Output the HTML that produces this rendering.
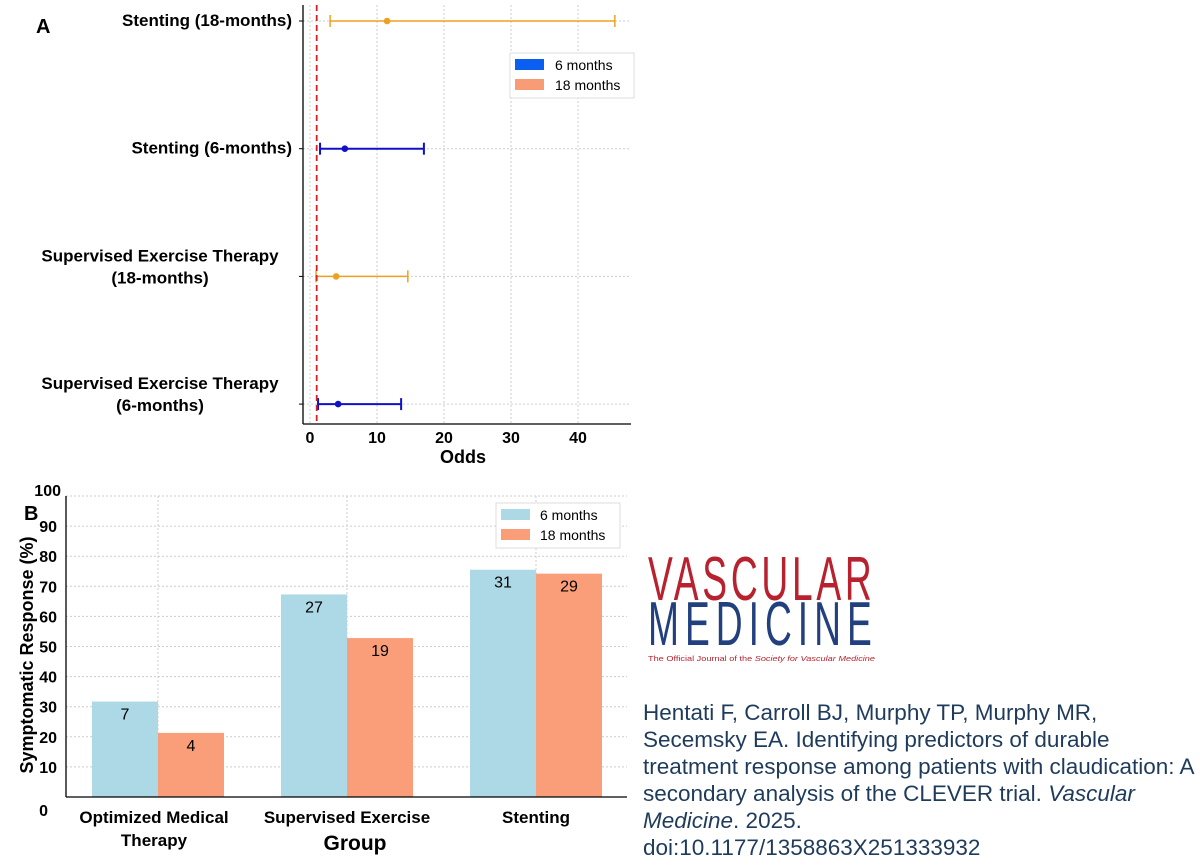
<!DOCTYPE html>
<html><head><meta charset="utf-8"><style>
html,body{margin:0;padding:0;background:#fff;}
svg{display:block;font-family:"Liberation Sans",sans-serif;}
</style></head><body>
<svg id="root" width="1200" height="866" viewBox="0 0 1200 866" xmlns="http://www.w3.org/2000/svg">
<g id="panelA"></g>
<g id="panelB"></g>
<g>
<text transform="translate(648,600) scale(0.6,1)" x="0" y="0" font-size="62" fill="#b8222f" textLength="373" lengthAdjust="spacing">VASCULAR</text>
<text transform="translate(648,645) scale(0.6,1)" x="0" y="0" font-size="62" fill="#223f7e" textLength="373" lengthAdjust="spacing">MEDICINE</text>
<text x="648" y="661" font-size="7.5" fill="#b8222f" textLength="227" lengthAdjust="spacingAndGlyphs">The Official Journal of the <tspan font-style="italic">Society for Vascular Medicine</tspan></text>
</g>
<g font-size="22.5" fill="#1f3b5c">
<text x="643" y="720">Hentati F, Carroll BJ, Murphy TP, Murphy MR,</text>
<text x="643" y="747">Secemsky EA. Identifying predictors of durable</text>
<text x="643" y="774">treatment response among patients with claudication: A</text>
<text x="643" y="801">secondary analysis of the CLEVER trial. <tspan font-style="italic">Vascular</tspan></text>
<text x="643" y="828"><tspan font-style="italic">Medicine</tspan>. 2025.</text>
<text x="643" y="855">doi:10.1177/1358863X251333932</text>
</g>
</svg>
<script>
// Panel A data
const aLabels = [["Stenting (18-months)"],["Stenting (6-months)"],["Supervised Exercise Therapy","(18-months)"],["Supervised Exercise Therapy","(6-months)"]];
const aPoint = [11.5, 5.2, 3.9, 4.2];
const aLow = [3.0, 1.5, 0.9, 1.2];
const aHigh = [45.5, 17.0, 14.6, 13.6];
const aSeries = ["18","6","18","6"];
const aTicks = [0,10,20,30,40];
// Panel B data
const bCats = [["Optimized Medical","Therapy"],["Supervised Exercise"],["Stenting"]];
const b6 = [31.7, 67.3, 75.5];
const b18 = [21.3, 52.8, 74.2];
const bN6 = ["7","27","31"];
const bN18 = ["4","19","29"];
const bTicks = [0,10,20,30,40,50,60,70,80,90,100];

const NS="http://www.w3.org/2000/svg";
function mk(p,tag,at,txt){const e=document.createElementNS(NS,tag);for(const k in at)e.setAttribute(k,at[k]);if(txt!==undefined)e.textContent=txt;p.appendChild(e);return e;}

// ---- Panel A
const A=document.getElementById('panelA');
const ax=v=>310+v*6.7;
const ay=i=>21+i*127.7;
mk(A,'text',{x:36,y:33,'font-size':20,'font-weight':'bold'},'A');
aTicks.forEach(t=>{const l=mk(A,'line',{x1:ax(t),x2:ax(t),y1:5,y2:424,stroke:'#ccc','stroke-dasharray':'2,2'});

const tx=mk(A,'text',{x:ax(t),y:443,'font-size':16,'font-weight':'bold','text-anchor':'middle'},String(t));
});
aLabels.forEach((lb,i)=>{const y=ay(i);
const g=mk(A,'line',{x1:303,x2:631,y1:y,y2:y,stroke:'#ccc','stroke-dasharray':'2,2'});

mk(A,'line',{x1:299,x2:303,y1:y,y2:y,stroke:'#000'});
lb.forEach((s,j)=>{const cx=160;const yy=lb.length>1?y-8+j*22:y+5;
const t=mk(A,'text',{x:lb.length>1?cx:292,y:yy-(lb.length>1?7:0),'font-size':17,'font-weight':'bold','text-anchor':lb.length>1?'middle':'end'},s);
});
const c=aSeries[i]==="18"?'#f0a020':'#1010c8';
const w=aSeries[i]==="18"?1.5:2;
const ci=mk(A,'line',{x1:ax(aLow[i]),x2:ax(aHigh[i]),y1:y,y2:y,stroke:c,'stroke-width':w});

[aLow[i],aHigh[i]].forEach(v=>{const cap=mk(A,'line',{x1:ax(v),x2:ax(v),y1:y-6,y2:y+6,stroke:c,'stroke-width':w});
});
const pt=mk(A,'circle',{cx:ax(aPoint[i]),cy:y,r:3.3,fill:c});
});
mk(A,'line',{x1:303,x2:303,y1:5,y2:424,stroke:'#000','stroke-width':1.3});
mk(A,'line',{x1:303,x2:631,y1:424,y2:424,stroke:'#000','stroke-width':1.3});
const rl=mk(A,'line',{x1:ax(1),x2:ax(1),y1:5,y2:424,stroke:'#d42020','stroke-width':1.8,'stroke-dasharray':'6,4'});

const xt=mk(A,'text',{x:463,y:463,'font-size':18,'font-weight':'bold','text-anchor':'middle'},'Odds');

const lgA=mk(A,'g',{});
mk(lgA,'rect',{x:510,y:53,width:124,height:45,fill:'#fff',stroke:'#ddd'});
mk(lgA,'rect',{x:515,y:59,width:29,height:11,fill:'#0a5ff0'});
mk(lgA,'text',{x:555,y:70,'font-size':14},'6 months');
mk(lgA,'rect',{x:515,y:79,width:29,height:11,fill:'#f89c78'});
mk(lgA,'text',{x:555,y:90,'font-size':14},'18 months');

// ---- Panel B
const B=document.getElementById('panelB');
const by=v=>797-v*3.01;
const bc=i=>158+i*189;
const bw=66;
mk(B,'text',{x:24,y:520,'font-size':20,'font-weight':'bold'},'B');
bTicks.forEach(t=>{if(t>0){const l=mk(B,'line',{x1:66,x2:627,y1:by(t),y2:by(t),stroke:'#ccc','stroke-dasharray':'2,2'});
}
const tx=mk(B,'text',{x:t===0?48:t===100?61:57,y:by(t)+(t===0?19:t===100?0:6),'font-size':16,'font-weight':'bold','text-anchor':'end'},String(t));
});
bCats.forEach((cat,i)=>{const cx=bc(i);
const g=mk(B,'line',{x1:cx,x2:cx,y1:496,y2:797,stroke:'#ccc','stroke-dasharray':'2,2'});
});
bCats.forEach((cat,i)=>{const cx=bc(i);
const r1=mk(B,'rect',{x:cx-bw,y:by(b6[i]),width:bw,height:by(0)-by(b6[i]),fill:'#add8e6'});

const r2=mk(B,'rect',{x:cx,y:by(b18[i]),width:bw,height:by(0)-by(b18[i]),fill:'#fa9e7a'});

const t1=mk(B,'text',{x:cx-bw/2,y:by(b6[i])+18,'font-size':16,'text-anchor':'middle'},bN6[i]);

const t2=mk(B,'text',{x:cx+bw/2,y:by(b18[i])+18,'font-size':16,'text-anchor':'middle'},bN18[i]);

cat.forEach((s,j)=>{const t=mk(B,'text',{x:cx-(i===0?4:0),y:823+j*23,'font-size':17,'font-weight':'bold','text-anchor':'middle'},s);
});});
mk(B,'line',{x1:66,x2:66,y1:496,y2:797,stroke:'#000','stroke-width':1.3});
mk(B,'line',{x1:66,x2:627,y1:797,y2:797,stroke:'#000','stroke-width':1.3});
const gx=mk(B,'text',{x:355,y:850,'font-size':21,'font-weight':'bold','text-anchor':'middle'},'Group');

const yt=mk(B,'text',{x:0,y:0,'font-size':18,'font-weight':'bold','text-anchor':'middle',transform:'translate(33,655) rotate(-90)'},'Symptomatic Response (%)');

const lgB=mk(B,'g',{});
mk(lgB,'rect',{x:496,y:503,width:124,height:45,fill:'#fff',stroke:'#ddd'});
mk(lgB,'rect',{x:501,y:509,width:29,height:11,fill:'#add8e6'});
mk(lgB,'text',{x:540,y:520,'font-size':14},'6 months');
mk(lgB,'rect',{x:501,y:529,width:29,height:11,fill:'#fa9e7a'});
mk(lgB,'text',{x:540,y:540,'font-size':14},'18 months');
</script>
</body></html>
